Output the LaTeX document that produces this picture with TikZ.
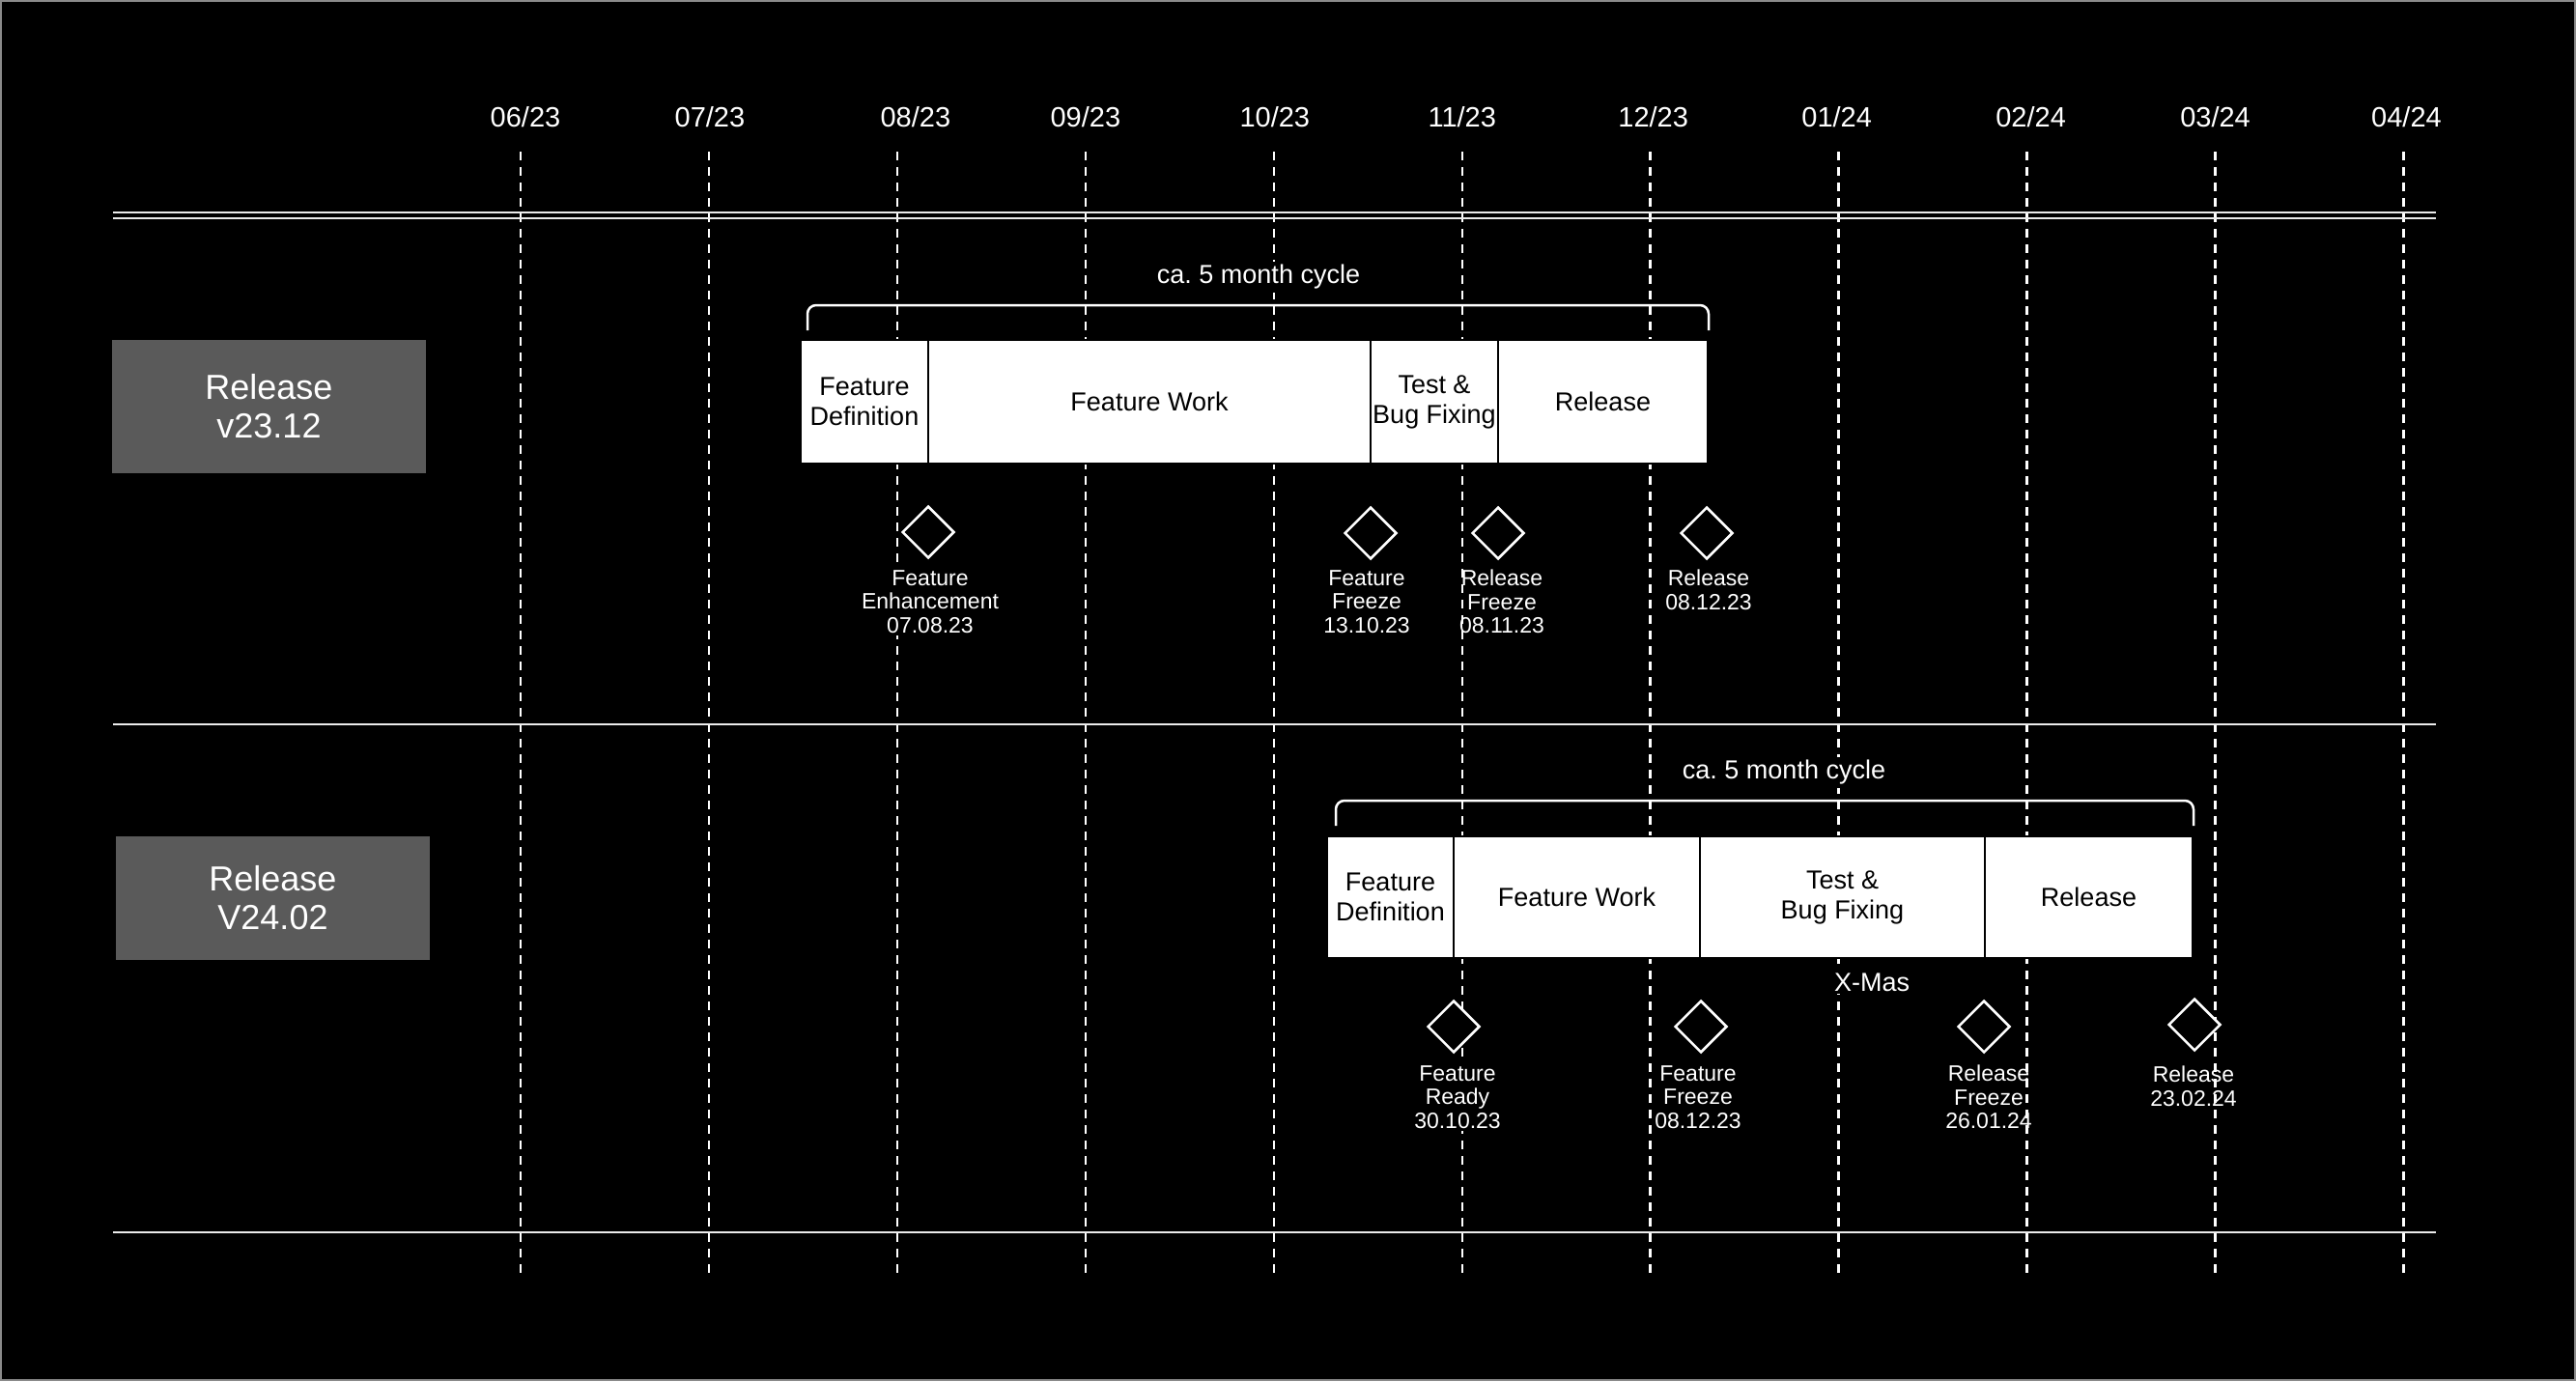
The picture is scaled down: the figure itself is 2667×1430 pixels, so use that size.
\documentclass[tikz,border=0pt]{standalone}
\usepackage{fontspec}
\setmainfont{Liberation Sans}
\usetikzlibrary{shapes.geometric}
\definecolor{relgray}{HTML}{5A5A5A}
\definecolor{edgegray}{HTML}{8A8A8A}
\frenchspacing
\begin{document}
\begin{tikzpicture}[x=1pt,y=-1pt,
  month/.style={text=white,font=\fontsize{29}{33}\selectfont,inner sep=0pt},
  gridline/.style={draw=white,line width=2.5pt,dash pattern=on 9pt off 7pt},
  hline/.style={draw=white!92!black,line width=2pt},
  relbox/.style={fill=relgray,text=white,font=\fontsize{36}{40}\selectfont,align=center,minimum width=325pt,inner sep=0pt},
  seg/.style={fill=white,draw=black,line width=2pt,text=black,font=\fontsize{27}{31}\selectfont,align=center,inner sep=0pt},
  bracket/.style={draw=white,line width=2.5pt,rounded corners=9pt},
  cyc/.style={text=white,fill=black,font=\fontsize{27}{31}\selectfont\frenchspacing,inner sep=3pt},
  ms/.style={diamond,draw=white,fill=black,line width=2.5pt,minimum width=54pt,minimum height=54pt,inner sep=0pt},
  mslab/.style={text=white,font=\fontsize{23}{24.5}\selectfont,align=center,inner sep=2pt},
  mslabf/.style={mslab,fill=black},
]
\useasboundingbox (0,0) rectangle (2667,1430);
\fill[black] (0,0) rectangle (2667,1430);
\draw[edgegray,line width=2pt] (1,1) rectangle (2666,1429);

% month grid
\foreach \i/\lab/\dx in {0/06\slash 23/5,1/07\slash 23/1,2/08\slash 23/19,3/09\slash 23/0,4/10\slash 23/1,5/11\slash 23/0,6/12\slash 23/3,7/01\slash 24/-2,8/02\slash 24/4,9/03\slash 24/0,10/04\slash 24/3}{
  \pgfmathsetmacro\xx{539+194.95*\i}
  \coordinate (gt\i) at (\xx,157);
  \coordinate (gb\i) at (\xx,1323);
  \draw[gridline] (gt\i) -- (gb\i);
  \node[month] (mon\i) at (\xx+\dx,121) {\lab};
}

% horizontal lines
\coordinate (dl1) at (117,220); \coordinate (dr1) at (2522,220);
\coordinate (dl2) at (117,225.5); \coordinate (dr2) at (2522,225.5);
\draw[hline] (dl1) -- (dr1);
\draw[hline] (dl2) -- (dr2);
\coordinate (sl1) at (117,750); \coordinate (sr1) at (2522,750);
\coordinate (sl2) at (117,1276); \coordinate (sr2) at (2522,1276);
\draw[hline] (sl1) -- (sr1);
\draw[hline] (sl2) -- (sr2);

% release boxes
\node[relbox,minimum height=138pt] (rel1) at (278.5,421) {Release\\v23.12};
\node[relbox,minimum height=128pt] (rel2) at (282.5,930) {Release\\V24.02};

% row 1 bar
\node[seg,minimum width=132pt,minimum height=128pt] (a1) at (895,416) {Feature\\Definition};
\node[seg,minimum width=458pt,minimum height=128pt] (a2) at (1190,416) {Feature Work};
\node[seg,minimum width=132pt,minimum height=128pt] (a3) at (1485,416) {Test \&\\Bug Fixing};
\node[seg,minimum width=217pt,minimum height=128pt] (a4) at (1659.5,416) {Release};

% row 1 bracket
\coordinate (b1l) at (836,342); \coordinate (b1lt) at (836,316);
\coordinate (b1rt) at (1769,316); \coordinate (b1r) at (1769,342);
\draw[bracket] (b1l) -- (b1lt) -- (b1rt) -- (b1r);
\node[cyc] (cyc1) at (1303,287) {ca.\ 5 month cycle};

% row 1 milestones
\node[ms] (d11) at (961,551) {};
\node[ms] (d12) at (1419,552) {};
\node[ms] (d13) at (1551,552) {};
\node[ms] (d14) at (1767,552) {};
\node[mslabf] (l11) at (963,623) {Feature\\Enhancement\\07.08.23};
\node[mslabf] (l12) at (1415,623) {Feature\\Freeze\\13.10.23};
\node[mslab] (l13) at (1555,623) {Release\\Freeze\\08.11.23};
\node[mslab] (l14) at (1769,611) {Release\\08.12.23};

% row 2 bar
\node[seg,minimum width=131pt,minimum height=126pt] (c1) at (1439.5,929) {Feature\\Definition};
\node[seg,minimum width=255pt,minimum height=126pt] (c2) at (1632.5,929) {Feature Work};
\node[seg,minimum width=295pt,minimum height=126pt] (c3) at (1907.5,929) {Test \&\\Bug Fixing};
\node[seg,minimum width=215pt,minimum height=126pt] (c4) at (2162.5,929) {Release};

% row 2 bracket
\coordinate (b2l) at (1383,855); \coordinate (b2lt) at (1383,829);
\coordinate (b2rt) at (2271,829); \coordinate (b2r) at (2271,855);
\draw[bracket] (b2l) -- (b2lt) -- (b2rt) -- (b2r);
\node[cyc] (cyc2) at (1847,800) {ca.\ 5 month cycle};

\node[cyc] (xmas) at (1938,1017) {X-Mas};

% row 2 milestones
\node[ms] (d21) at (1505,1063) {};
\node[ms] (d22) at (1761,1063) {};
\node[ms] (d23) at (2054,1063) {};
\node[ms] (d24) at (2272,1061) {};
\node[mslabf] (l21) at (1509,1136) {Feature\\Ready\\30.10.23};
\node[mslabf] (l22) at (1758,1136) {Feature\\Freeze\\08.12.23};
\node[mslab] (l23) at (2059,1136) {Release\\Freeze\\26.01.24};
\node[mslab] (l24) at (2271,1125) {Release\\23.02.24};
\end{tikzpicture}
\end{document}
